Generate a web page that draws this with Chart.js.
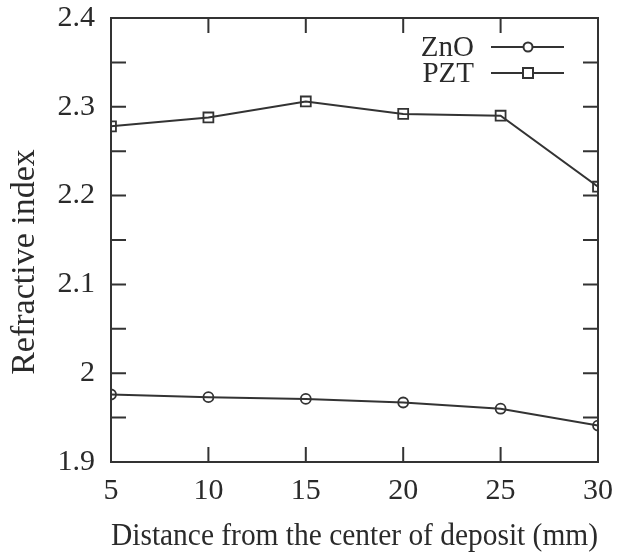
<!DOCTYPE html>
<html>
<head>
<meta charset="utf-8">
<script src="https://cdn.jsdelivr.net/npm/chart.js@4/dist/chart.umd.min.js"></script>
<style>
  html, body { margin: 0; padding: 0; background: #fff; }
  #wrap { width: 626px; height: 558px; }
</style>
</head>
<body>
<div id="wrap"><canvas id="chart" width="626" height="558"></canvas></div>
<script>
// distance from center of deposit (mm)
const distances = [5, 10, 15, 20, 25, 30];
const znoIndex = [1.976, 1.973, 1.971, 1.967, 1.960, 1.941];
const pztIndex = [2.278, 2.288, 2.306, 2.292, 2.290, 2.210];
const yLabels = ['1.9', '2', '2.1', '2.2', '2.3', '2.4'];

const ink = '#333';
const textInk = '#2a2a2a';
const serif = '"Liberation Serif", "DejaVu Serif", serif';

// inward ticks on all four sides, frame, y title and legend
const frameTicks = {
    id: 'frameTicks',
    afterDraw(chart) {
        const ctx = chart.ctx;
        const area = chart.chartArea;
        const xs = chart.scales.x;
        const ys = chart.scales.y;
        const len = 15;
        ctx.save();
        ctx.strokeStyle = ink;
        ctx.lineWidth = 2;
        ctx.strokeRect(area.left, area.top, area.right - area.left, area.bottom - area.top);
        ctx.beginPath();
        xs.ticks.forEach(t => {
            const px = xs.getPixelForValue(t.value);
            ctx.moveTo(px, area.bottom); ctx.lineTo(px, area.bottom - len);
            ctx.moveTo(px, area.top); ctx.lineTo(px, area.top + len);
        });
        ys.ticks.forEach(t => {
            const py = ys.getPixelForValue(t.value);
            ctx.moveTo(area.left, py); ctx.lineTo(area.left + len, py);
            ctx.moveTo(area.right, py); ctx.lineTo(area.right - len, py);
        });
        ctx.stroke();

        // y axis title, sits a little below the middle like the original
        ctx.save();
        ctx.translate(25, 262);
        ctx.rotate(-Math.PI / 2);
        ctx.font = '34px ' + serif;
        ctx.fillStyle = textInk;
        ctx.textAlign = 'center';
        ctx.textBaseline = 'middle';
        ctx.fillText('Refractive index', 0, 0);
        ctx.restore();

        // legend
        const entries = [
            { text: 'ZnO', y: 47, shape: 'circle' },
            { text: 'PZT', y: 73, shape: 'square' }
        ];
        ctx.font = '29px ' + serif;
        ctx.textAlign = 'right';
        ctx.textBaseline = 'middle';
        entries.forEach(e => {
            ctx.fillStyle = textInk;
            ctx.fillText(e.text, 474, e.y + 1);
            ctx.lineWidth = 2;
            ctx.beginPath();
            ctx.moveTo(491, e.y); ctx.lineTo(564, e.y);
            ctx.stroke();
            ctx.fillStyle = '#fff';
            ctx.beginPath();
            if (e.shape === 'circle') ctx.arc(528, e.y, 4.5, 0, Math.PI * 2);
            else ctx.rect(523, e.y - 5, 10, 10);
            ctx.fill();
            ctx.stroke();
        });
        ctx.restore();
    }
};

new Chart(document.getElementById('chart'), {
    type: 'line',
    data: {
        datasets: [
            {
                label: 'ZnO',
                data: distances.map((d, i) => ({ x: d, y: znoIndex[i] })),
                borderColor: ink,
                borderWidth: 2,
                pointStyle: 'circle',
                pointRadius: 5,
                pointBackgroundColor: 'rgba(255,255,255,0)',
                pointBorderColor: ink,
                pointBorderWidth: 1.8,
                tension: 0
            },
            {
                label: 'PZT',
                data: distances.map((d, i) => ({ x: d, y: pztIndex[i] })),
                borderColor: ink,
                borderWidth: 2,
                pointStyle: 'rect',
                pointRadius: 7,
                pointBackgroundColor: 'rgba(255,255,255,0)',
                pointBorderColor: ink,
                pointBorderWidth: 1.8,
                tension: 0
            }
        ]
    },
    options: {
        responsive: false,
        animation: false,
        events: [],
        layout: { padding: { top: 18, right: 28, left: 0, bottom: 0 } },
        plugins: {
            legend: { display: false },
            tooltip: { enabled: false }
        },
        scales: {
            x: {
                type: 'linear',
                min: 5,
                max: 30,
                afterFit(scale) {
                    scale.height = 96;
                    scale.paddingLeft = 0;
                    scale.paddingRight = 0;
                },
                grid: { display: false, drawTicks: false },
                border: { display: false },
                ticks: {
                    stepSize: 5,
                    padding: 11,
                    color: textInk,
                    font: { family: serif, size: 30 }
                },
                title: {
                    display: true,
                    text: 'Distance from the center of deposit (mm)',
                    color: textInk,
                    font: { family: serif, size: 32 },
                    padding: { top: 0, bottom: 2 }
                }
            },
            y: {
                type: 'linear',
                min: 1.9,
                max: 2.4,
                afterFit(scale) {
                    scale.width = 111;
                    scale.paddingTop = 0;
                    scale.paddingBottom = 0;
                },
                grid: { display: false, drawTicks: false },
                border: { display: false },
                ticks: {
                    stepSize: 0.05,
                    padding: 16,
                    color: textInk,
                    font: { family: serif, size: 30 },
                    callback(value) {
                        const k = Math.round((value - 1.9) * 10 * 1000) / 1000;
                        return Number.isInteger(k) ? yLabels[k] : '';
                    }
                }
            }
        }
    },
    plugins: [frameTicks]
});
</script>
</body>
</html>
